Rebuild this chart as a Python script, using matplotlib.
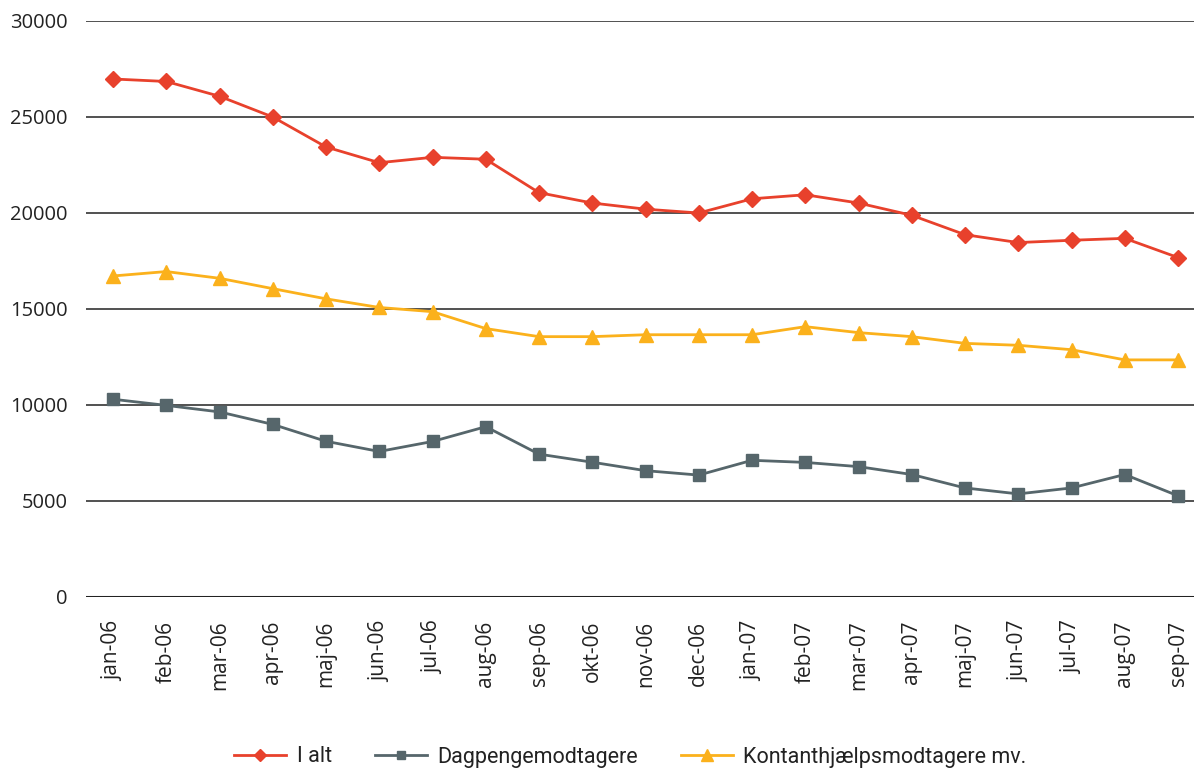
import matplotlib
matplotlib.use("Agg")
import matplotlib.pyplot as plt
from matplotlib import font_manager

months = ["jan-06", "feb-06", "mar-06", "apr-06", "maj-06", "jun-06", "jul-06", "aug-06",
          "sep-06", "okt-06", "nov-06", "dec-06", "jan-07", "feb-07", "mar-07", "apr-07",
          "maj-07", "jun-07", "jul-07", "aug-07", "sep-07"]
i_alt = [26980, 26850, 26080, 25000, 23440, 22620, 22900, 22800, 21060, 20520, 20200, 20000,
         20740, 20950, 20520, 19880, 18870, 18460, 18580, 18680, 17680]
dagpenge = [10300, 9980, 9640, 8990, 8110, 7580, 8100, 8870, 7440, 7020, 6580, 6350,
            7120, 7010, 6790, 6380, 5680, 5370, 5680, 6380, 5270]
kontant = [16720, 16950, 16600, 16060, 15530, 15080, 14860, 13980, 13560, 13560, 13660, 13660,
           13660, 14080, 13770, 13560, 13210, 13110, 12880, 12350, 12350]
labels = ["I alt", "Dagpengemodtagere", "Kontanthjælpsmodtagere mv."]
y_ticks = [0, 5000, 10000, 15000, 20000, 25000, 30000]

avail = {f.name for f in font_manager.fontManager.ttflist}
tick_font = "Open Sans" if "Open Sans" in avail else "DejaVu Sans"
leg_font = "Roboto" if "Roboto" in avail else "DejaVu Sans"

fig = plt.figure(figsize=(11.94, 7.70), dpi=100)
ax = fig.add_axes([86/1194, 1-597/770, 1-86/1194, (597-21)/770])

x = list(range(len(months)))
ax.plot(x, i_alt, color="#E8412C", lw=2, marker="D", ms=8, label=labels[0], zorder=3)
ax.plot(x, dagpenge, color="#56666B", lw=2, marker="s", ms=8, label=labels[1], zorder=3)
ax.plot(x, kontant, color="#FBB11C", lw=2, marker="^", ms=10, label=labels[2], zorder=3)

ax.set_xlim(-0.507, 20.30)
ax.set_ylim(0, 30000)
ax.set_yticks(y_ticks)
for v in y_ticks[1:]:
    ax.axhline(v, color="#222222", lw=1.1, zorder=1)
ax.axhline(0, color="#222222", lw=2.2, zorder=1)
for s in ax.spines.values():
    s.set_visible(False)
ax.set_xticks(x)
ax.set_xticklabels(months, rotation=90, fontsize=15, family=tick_font, color="#222222")
ax.tick_params(axis="both", length=0)
ax.tick_params(axis="x", pad=17)
ax.tick_params(axis="y", pad=13)
for t in ax.get_yticklabels():
    t.set_fontsize(14.5)
    t.set_family(tick_font)
    t.set_color("#222222")

leg = fig.legend(loc="center", bbox_to_anchor=(0.528, 1-757/770), ncol=3, frameon=False,
                 prop={"family": leg_font, "size": 15.5}, handlelength=2.4, columnspacing=2.0,
                 handletextpad=0.5, markerscale=0.8)
for t in leg.get_texts():
    t.set_color("#222222")

fig.savefig("out.png", dpi=100)
